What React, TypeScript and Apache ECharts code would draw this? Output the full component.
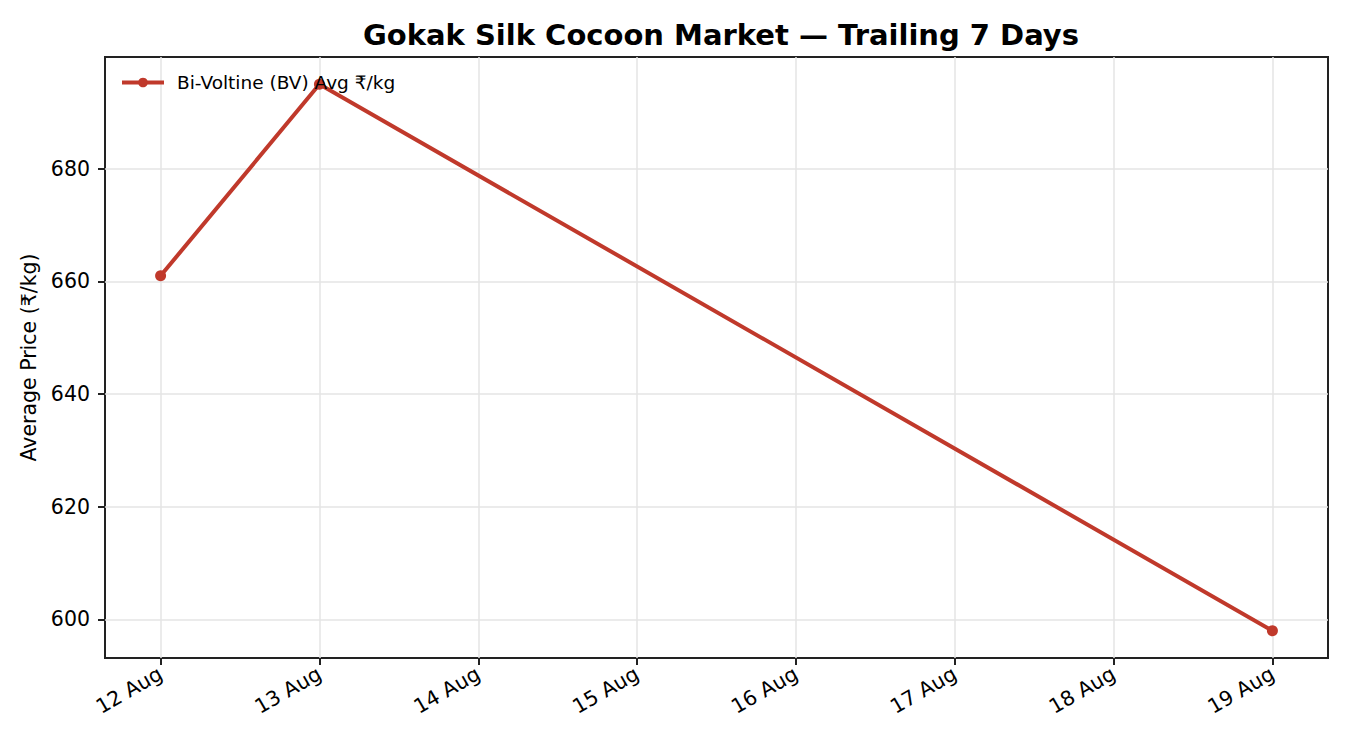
import { useEffect, useRef } from 'react';
import * as echarts from 'echarts';

// days of August on the x axis
const dayTicks = [12, 13, 14, 15, 16, 17, 18, 19];
const priceDays = [12, 13, 19];
const bvAvgPrice = [661, 695, 598];
const priceTicks = [600, 620, 640, 660, 680];
const seriesName = 'Bi-Voltine (BV) Avg ₹/kg';

const App = () => {
    const chartRef = useRef<HTMLDivElement | null>(null);

    useEffect(() => {
        document.body.style.margin = '0';
        if (!chartRef.current) return;
        const chart = echarts.init(chartRef.current, null, { renderer: 'svg' });
        const font = 'DejaVu Sans';
        const red = '#c0392b';
        const option = {
            animation: false,
            backgroundColor: '#fff',
            textStyle: { fontFamily: font },
            title: {
                text: 'Gokak Silk Cocoon Market — Trailing 7 Days',
                left: 716,
                top: 15,
                textAlign: 'center',
                textStyle: { fontFamily: font, fontSize: 29, fontWeight: 'bold', color: '#000' },
            },
            legend: {
                left: 115,
                top: 68,
                itemWidth: 42,
                itemHeight: 12,
                itemGap: 10,
                lineStyle: { width: 4 },
                textStyle: { fontFamily: font, fontSize: 18.5, color: '#000', padding: [0, 0, 0, 8] },
                data: [seriesName],
            },
            grid: {
                left: 105,
                right: 22,
                top: 57,
                bottom: 92,
                show: true,
                borderColor: '#222',
                borderWidth: 2,
                backgroundColor: 'transparent',
            },
            xAxis: {
                type: 'value',
                min: 11.65,
                max: 19.35,
                axisLine: { show: false },
                axisTick: {
                    show: true,
                    inside: false,
                    length: 7,
                    lineStyle: { color: '#222', width: 2 },
                    customValues: dayTicks,
                },
                axisLabel: {
                    customValues: dayTicks,
                    rotate: 30,
                    margin: 14,
                    fontSize: 20.5,
                    color: '#000',
                    fontFamily: font,
                    formatter: (v: number) => `${v} Aug`,
                },
                splitLine: { show: true, lineStyle: { color: '#e5e5e5', width: 1.5 } },
            },
            yAxis: {
                type: 'value',
                min: 593.15,
                max: 699.85,
                name: 'Average Price (₹/kg)',
                nameLocation: 'middle',
                nameGap: 62,
                nameRotate: 90,
                nameTextStyle: { fontFamily: font, fontSize: 20.5, color: '#000' },
                axisLine: { show: false },
                axisTick: {
                    show: true,
                    inside: false,
                    length: 7,
                    lineStyle: { color: '#222', width: 2 },
                    customValues: priceTicks,
                },
                axisLabel: {
                    customValues: priceTicks,
                    margin: 15,
                    fontSize: 20.5,
                    color: '#000',
                    fontFamily: font,
                },
                splitLine: { show: true, lineStyle: { color: '#e5e5e5', width: 1.5 } },
            },
            series: [
                {
                    name: seriesName,
                    type: 'line',
                    data: priceDays.map((d, i) => [d, bvAvgPrice[i]]),
                    symbol: 'circle',
                    symbolSize: 11,
                    showSymbol: true,
                    lineStyle: { color: red, width: 4 },
                    itemStyle: { color: red },
                    z: 3,
                },
            ],
        };
        chart.setOption(option);
        return () => {
            chart.dispose();
        };
    }, []);

    return <div ref={chartRef} style={{ width: 1350, height: 750 }} />;
};

export default App;
